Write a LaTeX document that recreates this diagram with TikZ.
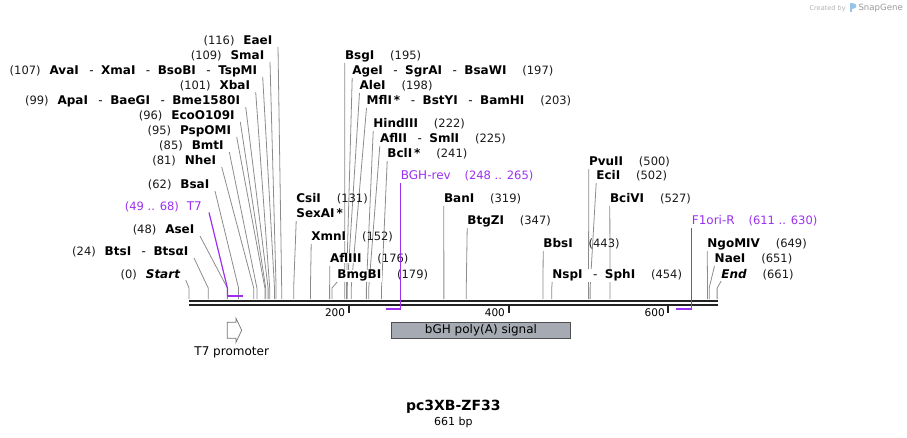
\documentclass[tikz,border=0pt]{standalone}
\usepackage{fontspec}
\setmainfont{DejaVu Sans}
\usetikzlibrary{calc}
\pgfdeclarelayer{back}
\pgfsetlayers{back,main}
\definecolor{primer}{RGB}{155,48,240}
\definecolor{connc}{RGB}{140,140,140}
\definecolor{bbc}{RGB}{34,34,34}
\definecolor{featc}{RGB}{166,171,179}
\definecolor{featline}{RGB}{80,80,80}
\definecolor{logoc}{RGB}{150,195,235}
\newcommand\hy{\hspace{10.5pt}{\mdseries -}\hspace{7.5pt}}
\newcommand\Lsite[6]{%
  \node[enz, anchor=base east] (n#1) at (#2,#3) {#5};
  \node[num, anchor=base east] (m#1) at ($(n#1.base west)+(-8,0)$) {(#6)};
  \coordinate (b#1) at ({189+0.799*#4},288);
  \coordinate (a#1) at ({189+0.799*#4},299);
  \begin{pgfonlayer}{back}\draw[connline] ($(n#1.base east)+(5,2)$) -- (b#1) -- (a#1);\end{pgfonlayer}}
\newcommand\Rsite[6]{%
  \node[enz, anchor=base west] (n#1) at (#2,#3) {#5};
  \node[num, anchor=base west] (m#1) at ($(n#1.base east)+(15,0)$) {(#6)};
  \coordinate (b#1) at ({189+0.799*#4},288);
  \coordinate (a#1) at ({189+0.799*#4},299);
  \begin{pgfonlayer}{back}\draw[connline] ($(n#1.base west)+(0.5,3)$) -- (b#1) -- (a#1);\end{pgfonlayer}}
\begin{document}
\begin{tikzpicture}[x=1pt,y=-1pt,
  enz/.style={font=\bfseries\fontsize{12}{14}\selectfont, inner sep=0.5pt, fill=white, text=black},
  num/.style={font=\fontsize{11.5}{13}\selectfont, inner sep=0pt, text=black!90},
  prim/.style={font=\fontsize{12}{14}\selectfont, inner sep=0.5pt, text=primer},
  primnum/.style={font=\fontsize{11.5}{13}\selectfont, inner sep=0pt, text=primer},
  connline/.style={draw=connc, line width=0.8pt},
  primline/.style={draw=primer, line width=1.2pt},
  primbar/.style={draw=primer, line width=2pt},
  backbone/.style={draw=bbc, line width=2.4pt},
  tickline/.style={draw=bbc, line width=2pt},
  ticklab/.style={font=\fontsize{10.5}{12}\selectfont, inner sep=0pt, anchor=base east},
  featbox/.style={draw=featline, fill=featc, line width=0.8pt, minimum width=179.4pt, minimum height=16pt, inner sep=0pt, font=\fontsize{12}{14}\selectfont},
  featlab/.style={font=\fontsize{12}{14}\selectfont, inner sep=0pt}]
\useasboundingbox (0,0) rectangle (907,438);
% backbone
\coordinate (bbL1) at (189,300.8);
\coordinate (bbR1) at (717.6,300.8);
\coordinate (bbL2) at (189,304.6);
\coordinate (bbR2) at (717.6,304.6);
\draw[backbone] (bbL1) -- (bbR1);
\draw[backbone, line width=2.2pt] (bbL2) -- (bbR2);
% ticks
\foreach \v/\xx in {200/348.8,400/508.6,600/668.4}{
  \coordinate (ta\v) at (\xx,305.5);
  \coordinate (tb\v) at (\xx,312.5);
  \draw[tickline] (ta\v) -- (tb\v);
  \node[ticklab] (t\v) at (\xx-3.5,316) {\v};
}
% left enzyme sites
\Lsite{Eae}{273}{45}{116}{EaeI}{116}
\Lsite{Sma}{265}{60}{109}{SmaI}{109}
\Lsite{Ava}{257.7}{75}{107}{AvaI\hy XmaI\hy BsoBI\hy TspMI}{107}
\Lsite{Xba}{250.7}{90}{101}{XbaI}{101}
\Lsite{Apa}{240.7}{105}{99}{ApaI\hy BaeGI\hy Bme1580I}{99}
\Lsite{Eco}{235.3}{120}{96}{EcoO109I}{96}
\Lsite{Psp}{231.7}{135}{95}{PspOMI}{95}
\Lsite{Bmt}{224.3}{150}{85}{BmtI}{85}
\Lsite{Nhe}{216.7}{165}{81}{NheI}{81}
\Lsite{Bsa}{210}{189}{62}{BsaI}{62}
\Lsite{Ase}{195}{234}{48}{AseI}{48}
\Lsite{Bts}{189}{256}{24}{BtsI\hy Btsα{}I}{24}
\Lsite{Start}{180.7}{278}{0}{\itshape Start}{0}
% right enzyme sites
\Rsite{Bsg}{344.3}{60}{195}{BsgI}{195}
\Rsite{Age}{351.7}{75}{197}{AgeI\hy SgrAI\hy BsaWI}{197}
\Rsite{Ale}{359}{90}{198}{AleI}{198}
\Rsite{Mfl}{366}{105}{203}{MflI\,*\hy BstYI\hy BamHI}{203}
\Rsite{Hind}{372.7}{128}{222}{HindIII}{222}
\Rsite{Afl}{379.3}{143}{225}{AflII\hy SmlI}{225}
\Rsite{Bcl}{386.7}{158}{241}{BclI\,*}{241}
\Rsite{Xmn}{310.7}{241}{152}{XmnI}{152}
\Rsite{Aflt}{329.3}{263}{176}{AflIII}{176}
\Rsite{Bmg}{336.7}{279}{179}{BmgBI}{179}
\Rsite{Ban}{443.3}{203}{319}{BanI}{319}
\Rsite{Btg}{466.7}{225}{347}{BtgZI}{347}
\Rsite{Bbs}{542.7}{248}{443}{BbsI}{443}
\Rsite{Nsp}{551.7}{279}{454}{NspI\hy SphI}{454}
\Rsite{Pvu}{588.3}{166}{500}{PvuII}{500}
\Rsite{Eci}{595.7}{180}{502}{EciI}{502}
\Rsite{Bci}{609.3}{203}{527}{BciVI}{527}
\Rsite{Ngo}{706.7}{248}{649}{NgoMIV}{649}
\Rsite{Nae}{714}{263}{651}{NaeI}{651}
\Rsite{End}{720.7}{278}{661}{\itshape End}{661}
% CsiI / SexAI
\node[enz, anchor=base west] (nCsi) at (295.7,203) {CsiI};
\node[num, anchor=base west] (mCsi) at ($(nCsi.base east)+(15,0)$) {(131)};
\node[enz, anchor=base west] (nSex) at (295.7,218) {SexAI\,*};
\coordinate (bCsi) at ({189+0.799*131},288);
\coordinate (aCsi) at ({189+0.799*131},299);
\begin{pgfonlayer}{back}\draw[connline] ($(nSex.base west)+(0.5,3)$) -- (bCsi) -- (aCsi);\end{pgfonlayer}
% primers
\node[prim, anchor=base east] (pT7) at (202.5,211) {T7};
\node[primnum, anchor=base east] (qT7) at ($(pT7.base west)+(-7,0)$) {(49 .. 68)};
\coordinate (pT7b) at (227.4,288);
\coordinate (pT7c) at (227.4,295.8);
\coordinate (pT7d) at (243.3,295.8);
\draw[primline] ($(pT7.base east)+(6.5,1.5)$) -- (pT7b) -- (pT7c);
\draw[primbar] (pT7c) -- (pT7d);

\node[prim, anchor=base west] (pBGH) at (400.2,180) {BGH-rev};
\node[primnum, anchor=base west] (qBGH) at ($(pBGH.base east)+(13,0)$) {(248 .. 265)};
\coordinate (pBGHb) at (400.7,308.8);
\coordinate (pBGHc) at (386.2,308.8);
\draw[primline] ($(pBGH.base west)+(0.5,3)$) -- (pBGHb);
\draw[primbar] ($(pBGHb)+(0.6,0)$) -- (pBGHc);

\node[prim, anchor=base west] (pF1) at (691.2,225) {F1ori-R};
\node[primnum, anchor=base west] (qF1) at ($(pF1.base east)+(13,0)$) {(611 .. 630)};
\coordinate (pF1b) at (691.7,308.8);
\coordinate (pF1c) at (676.4,308.8);
\draw[primline] ($(pF1.base west)+(0.5,3)$) -- (pF1b);
\draw[primbar] ($(pF1b)+(0.6,0)$) -- (pF1c);
% features
\draw[draw=featline!80, fill=white, line width=0.7pt] (227.3,322.3) -- (236,322.3) -- (236,318.3) -- (241.7,330.3) -- (236,342.3) -- (236,338.3) -- (227.3,338.3) -- cycle;
\node[featlab, anchor=base] (t7lab) at (231.7,355.7) {T7 promoter};
\node[featbox] (bgh) at (481,330.3) {bGH poly(A) signal};
% title
\node[font=\bfseries\fontsize{14}{16}\selectfont, inner sep=0pt, anchor=base] (title) at (453.3,410.7) {pc3XB-ZF33};
\node[font=\fontsize{11}{13}\selectfont, inner sep=0pt, anchor=base] (len) at (453.3,425) {661 bp};
% created by
\node[font=\fontsize{6.6}{8}\selectfont, text=black!30, inner sep=0pt, anchor=base west] (cb) at (809.3,10.5) {Created by};
\fill[logoc] (850.3,3) rectangle (852.3,12.5);
\fill[logoc] (852.3,3) .. controls (858,3) and (858,9) .. (852.3,9) -- cycle;
\node[font=\fontsize{8.6}{10}\selectfont, text=black!40, inner sep=0pt, anchor=base west] (sg) at (858.3,10.8) {SnapGene};
\end{tikzpicture}
\end{document}
